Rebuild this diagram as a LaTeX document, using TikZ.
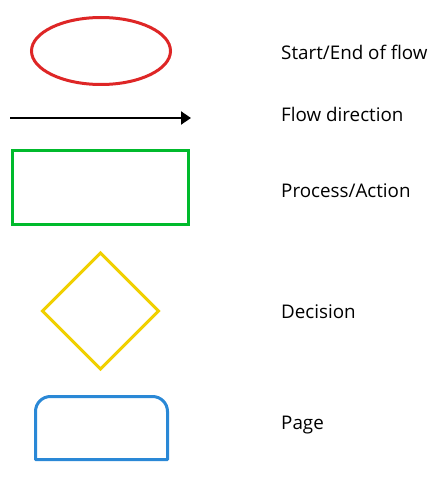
\documentclass[tikz,border=0pt]{standalone}
\usepackage{fontspec}
\setmainfont{Open Sans}
\usetikzlibrary{arrows.meta, shapes.geometric}
\definecolor{flowred}{RGB}{222, 38, 38}
\definecolor{flowgreen}{RGB}{0, 186, 44}
\definecolor{flowyellow}{RGB}{240, 208, 0}
\definecolor{flowblue}{RGB}{42, 136, 214}
\begin{document}
\begin{tikzpicture}[
    x=1pt, y=-1pt,
    shp/.style={draw, line width=3pt, inner sep=0pt, outer sep=0pt},
    lbl/.style={anchor=base west, inner sep=0pt, font=\fontsize{18.8}{22}\selectfont},
    arr/.style={-{Triangle[length=10pt, width=13pt]}, line width=2pt, black}
  ]
    \useasboundingbox (0,0) rectangle (445,481);
    % shapes
    \node[shp, ellipse, flowred, minimum width=139pt, minimum height=67pt] (start) at (101,51) {};
    \coordinate (arrfrom) at (10,118);
    \coordinate (arrto) at (191,118);
    \draw[arr] (arrfrom) -- (arrto);
    \node[shp, rectangle, flowgreen, minimum width=176pt, minimum height=74pt] (proc) at (100.5,187.5) {};
    \node[shp, diamond, flowyellow, minimum width=116pt, minimum height=116pt] (dec) at (100.5,311) {};
    \draw[shp, flowblue, line join=round] (35.5,459.5) -- (35.5,411.5)
      arc[start angle=180, end angle=270, radius=15] -- (152.5,396.5)
      arc[start angle=270, end angle=360, radius=15] -- (167.5,459.5) -- cycle;
    % labels
    \node[lbl] (tstart) at (281,60) {Start/End of flow};
    \node[lbl] (tarr) at (281,122) {Flow direction};
    \node[lbl] (tproc) at (281,197) {Process/Action};
    \node[lbl] (tdec) at (281,318) {Decision};
    \node[lbl] (tpage) at (281,429) {Page};
  \end{tikzpicture}
\end{document}
